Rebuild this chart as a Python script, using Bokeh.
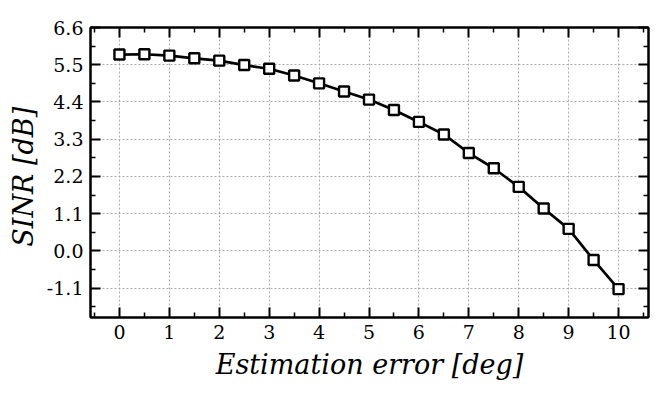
from bokeh.plotting import figure
from bokeh.models import (LinearAxis, FixedTicker, Range1d, NumeralTickFormatter,
                          CustomJSTickFormatter)
from bokeh.embed import file_html
from bokeh.resources import INLINE

# Data
est_error = [0.0, 0.5, 1.0, 1.5, 2.0, 2.5, 3.0, 3.5, 4.0, 4.5, 5.0,
             5.5, 6.0, 6.5, 7.0, 7.5, 8.0, 8.5, 9.0, 9.5, 10.0]
sinr_db = [5.80, 5.81, 5.77, 5.69, 5.62, 5.49, 5.38, 5.18, 4.95, 4.71, 4.47,
           4.16, 3.81, 3.44, 2.89, 2.44, 1.89, 1.25, 0.65, -0.27, -1.13]
x_ticks = [0, 1, 2, 3, 4, 5, 6, 7, 8, 9, 10]
x_minor = [-0.5, 0.5, 1.5, 2.5, 3.5, 4.5, 5.5, 6.5, 7.5, 8.5, 9.5, 10.5]
y_ticks = [-1.1, 0.0, 1.1, 2.2, 3.3, 4.4, 5.5, 6.6]
y_minor = [-1.65, -0.55, 0.55, 1.65, 2.75, 3.85, 4.95, 6.05]

SERIF = "DejaVu Serif"

p = figure(width=666, height=400, output_backend="svg", toolbar_location=None,
           x_range=Range1d(-0.58, 10.6), y_range=Range1d(-1.97, 6.6),
           min_border_left=90, min_border_right=18, min_border_top=27,
           min_border_bottom=83)
p.outline_line_color = "black"
p.outline_line_width = 2
p.background_fill_color = "white"
p.border_fill_color = "white"

xt = FixedTicker(ticks=x_ticks, minor_ticks=x_minor)
yt = FixedTicker(ticks=y_ticks, minor_ticks=y_minor)


def style_axis(ax, show_labels):
    ax.axis_line_color = "black"
    ax.axis_line_width = 2
    ax.major_tick_in = 10
    ax.major_tick_out = 0
    ax.minor_tick_in = 5
    ax.minor_tick_out = 0
    ax.major_tick_line_width = 2
    ax.minor_tick_line_width = 1.5
    ax.major_tick_line_color = "black"
    ax.minor_tick_line_color = "black"
    if show_labels:
        ax.major_label_text_font = SERIF
        ax.major_label_text_font_size = "19px"
        ax.major_label_text_color = "black"
    else:
        ax.formatter = CustomJSTickFormatter(code="return '';")
        ax.major_label_standoff = 0


xa = p.xaxis[0]
xa.ticker = xt
style_axis(xa, True)
xa.major_label_standoff = 7
xa.axis_label = "Estimation error [deg]"
xa.axis_label_text_font = SERIF
xa.axis_label_text_font_style = "italic"
xa.axis_label_text_font_size = "27px"
xa.axis_label_text_color = "black"
xa.axis_label_standoff = 7

ya = p.yaxis[0]
ya.ticker = yt
style_axis(ya, True)
ya.formatter = NumeralTickFormatter(format="0.0")
ya.major_label_standoff = 7
ya.axis_label = "SINR  [dB]"
ya.axis_label_text_font = SERIF
ya.axis_label_text_font_style = "italic"
ya.axis_label_text_font_size = "27px"
ya.axis_label_text_color = "black"
ya.axis_label_standoff = 5

top = LinearAxis(ticker=FixedTicker(ticks=x_ticks, minor_ticks=x_minor))
style_axis(top, False)
p.add_layout(top, "above")
right = LinearAxis(ticker=FixedTicker(ticks=y_ticks, minor_ticks=y_minor))
style_axis(right, False)
p.add_layout(right, "right")

p.xgrid.ticker = xt
p.ygrid.ticker = yt
for g in (p.xgrid[0], p.ygrid[0]):
    g.grid_line_color = "#aaaaaa"
    g.grid_line_dash = "2 2"
    g.grid_line_width = 1

p.line(est_error, sinr_db, line_color="black", line_width=2.7)
p.scatter(est_error, sinr_db, marker="square", size=10, fill_color="white",
          line_color="black", line_width=2.4)

open("out.html", "w").write(file_html(p, INLINE))
